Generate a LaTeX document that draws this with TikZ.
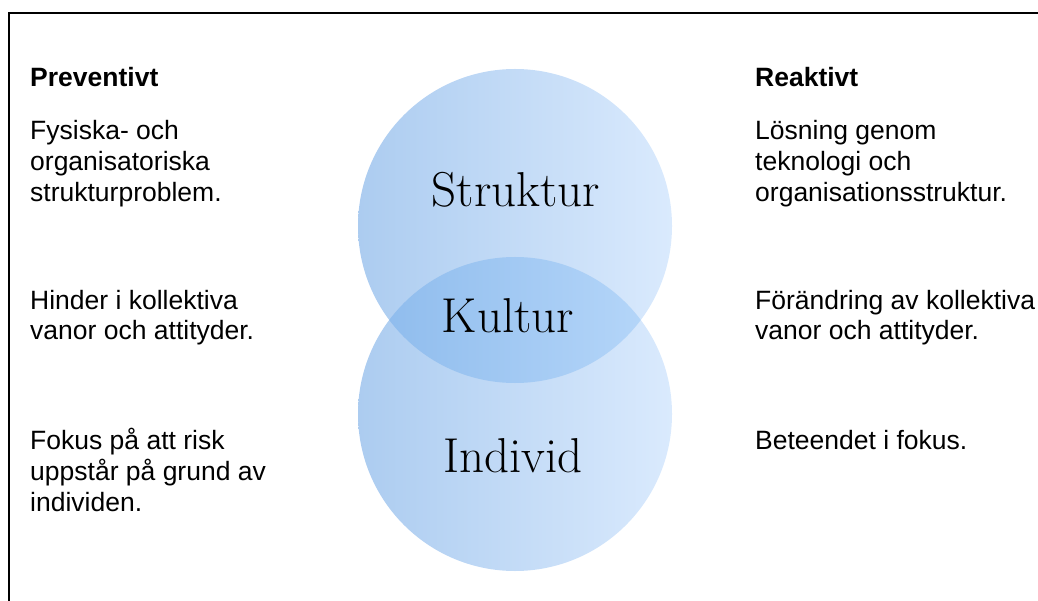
\documentclass[tikz,border=0pt]{standalone}
\usepackage{fontspec}
\newfontfamily\arialfont{Liberation Sans}
\usepackage{tikz}
\usetikzlibrary{positioning}
\definecolor{vennleft}{RGB}{172,204,240}
\definecolor{vennright}{RGB}{218,234,253}
\definecolor{lensleft}{RGB}{140,186,236}
\definecolor{lensright}{RGB}{184,216,250}

\begin{document}
\begin{tikzpicture}[
  x=1pt, y=-1pt,
  headtext/.style={anchor=base west, inner sep=0pt, align=left, font=\arialfont\bfseries\fontsize{26.5}{31}\selectfont},
  bodytext/.style={anchor=base west, inner sep=0pt, align=left, font=\arialfont\fontsize{26.5}{31}\selectfont},
  venntext/.style={anchor=base, inner sep=0pt, font=\fontsize{49}{49}\selectfont}
]
  \useasboundingbox (0,0) rectangle (1038,601);
  \draw[line width=1.6pt] (9,601) -- (9,13) -- (1038,13);

  % the two circles and their overlap
  \coordinate (topc) at (515,226);
  \coordinate (botc) at (515,414);
  \shade[left color=vennleft, right color=vennright] (topc) circle (157);
  \shade[left color=vennleft, right color=vennright] (botc) circle (157);
  \begin{scope}
    \clip (topc) circle (157);
    \shade[left color=lensleft, right color=lensright] (botc) circle (157);
  \end{scope}

  \node[venntext] (struktur) at (516,207) {Struktur};
  \node[venntext] (kultur) at (508,333) {Kultur};
  \node[venntext] (individ) at (513,472) {Individ};

  % left column (base = last line)
  \node[headtext] (prevhead) at (30,87) {Preventivt};
  \node[bodytext] (prev1) at (30,202) {Fysiska- och\\organisatoriska\\strukturproblem.};
  \node[bodytext] (prev2) at (30,340) {Hinder i kollektiva\\vanor och attityder.};
  \node[bodytext] (prev3) at (30,511) {Fokus på att risk\\uppstår på grund av\\individen.};

  % right column
  \node[headtext] (reakhead) at (755,87) {Reaktivt};
  \node[bodytext] (reak1) at (755,202) {Lösning genom\\teknologi och\\organisationsstruktur.};
  \node[bodytext] (reak2) at (755,340) {Förändring av kollektiva\\vanor och attityder.};
  \node[bodytext] (reak3) at (755,449) {Beteendet i fokus.};
\end{tikzpicture}
\end{document}
